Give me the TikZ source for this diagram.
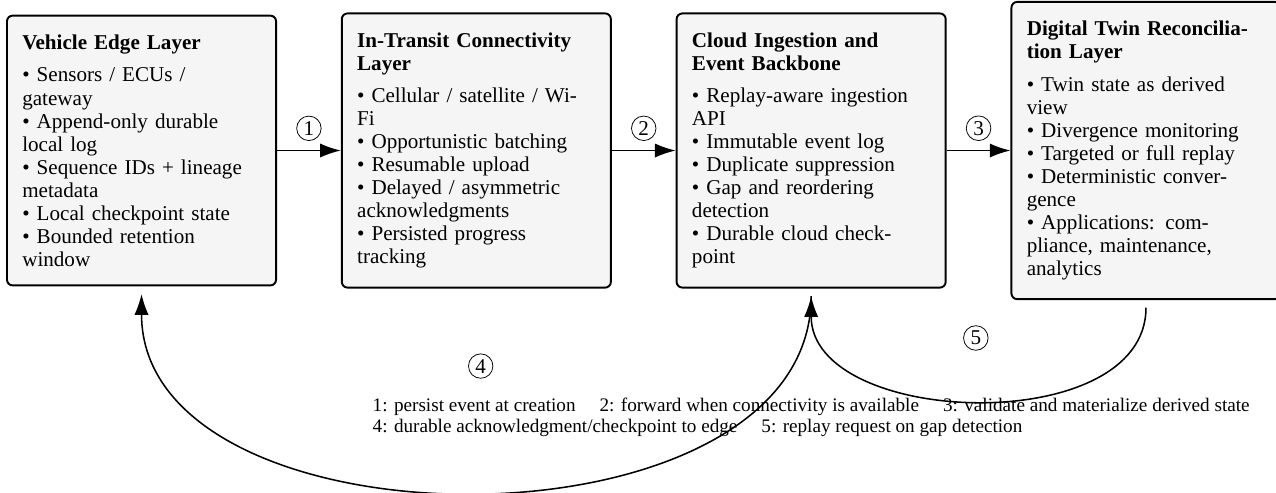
\documentclass[tikz,border=0pt]{standalone}
\usepackage{fontspec}
\setmainfont{Liberation Serif}
\usetikzlibrary{arrows.meta,positioning,calc}

\begin{document}
\begin{tikzpicture}[
  layer/.style={rectangle,draw=black,line width=1pt,rounded corners=3pt,
                fill=gray!8,text width=4.37cm,inner xsep=8pt,inner ysep=10pt,
                align=left,font=\fontsize{11}{12}\selectfont},
  flow/.style={thick,-{Latex[length=3.8mm,width=2.6mm]}},
  num/.style={circle,draw,thin,inner sep=1.3pt,font=\fontsize{11}{12}\selectfont},
  legend/.style={align=left,font=\fontsize{10}{11}\selectfont}]

\useasboundingbox (0,0) rectangle (23.39,-9.03);

%% ---------- layers ----------
\node[layer](edge) at (2.594,-2.759){\textbf{Vehicle Edge Layer}\\[5pt]
  \textbullet{} Sensors / ECUs /\\ gateway\\
  \textbullet{} Append-only durable\\ local log\\
  \textbullet{} Sequence IDs + lineage\\ metadata\\
  \textbullet{} Local checkpoint state\\
  \textbullet{} Bounded retention\\ window};

\node[layer,right=1.17cm of edge](transit){\textbf{In-Transit Connectivity}\\
  \textbf{Layer}\\[5pt]
  \textbullet{} Cellular / satellite / Wi-\\ Fi\\
  \textbullet{} Opportunistic batching\\
  \textbullet{} Resumable upload\\
  \textbullet{} Delayed / asymmetric\\ acknowledgments\\
  \textbullet{} Persisted progress\\ tracking};

\node[layer,right=1.17cm of transit](cloud){\textbf{Cloud Ingestion and}\\
  \textbf{Event Backbone}\\[5pt]
  \textbullet{} Replay-aware ingestion\\ API\\
  \textbullet{} Immutable event log\\
  \textbullet{} Duplicate suppression\\
  \textbullet{} Gap and reordering\\ detection\\
  \textbullet{} Durable cloud check-\\ point};

\node[layer,right=1.17cm of cloud](twin){\textbf{Digital Twin Reconcilia-}\\
  \textbf{tion Layer}\\[5pt]
  \textbullet{} Twin state as derived\\ view\\
  \textbullet{} Divergence monitoring\\
  \textbullet{} Targeted or full replay\\
  \textbullet{} Deterministic conver-\\ gence\\
  \textbullet{} Applications: com-\\ pliance, maintenance,\\ analytics};

%% ---------- forward flow ----------
\draw[flow](edge.east) -- node[num,above=5pt](n1){1} (transit.west);
\draw[flow](transit.east) -- node[num,above=5pt](n2){2} (cloud.west);
\draw[flow](cloud.east) -- node[num,above=5pt](n3){3} (twin.west);

%% ---------- feedback loops ----------
\coordinate (edgeB) at ([yshift=-4pt]edge.south);
\coordinate (cloudB) at ([yshift=-4pt]cloud.south);
\coordinate (twinB) at ([yshift=-4pt]twin.south);

\draw[flow](cloudB) to[out=-90,in=-90] (edgeB);
\draw[flow](twinB) to[out=-90,in=-90] (cloudB);

\node[num](n4) at ($(edgeB)!0.5!(cloudB)+(0.08,-1.3)$){4};
\node[num](n5) at ($(cloudB)!0.5!(twinB)+(-0.05,-0.66)$){5};

%% ---------- legend ----------
\node[legend,below=1.88cm of cloud](key){1: persist event at creation \quad
  2: forward when connectivity is available \quad
  3: validate and materialize derived state\\
  4: durable acknowledgment/checkpoint to edge \quad
  5: replay request on gap detection};

\end{tikzpicture}
\end{document}
